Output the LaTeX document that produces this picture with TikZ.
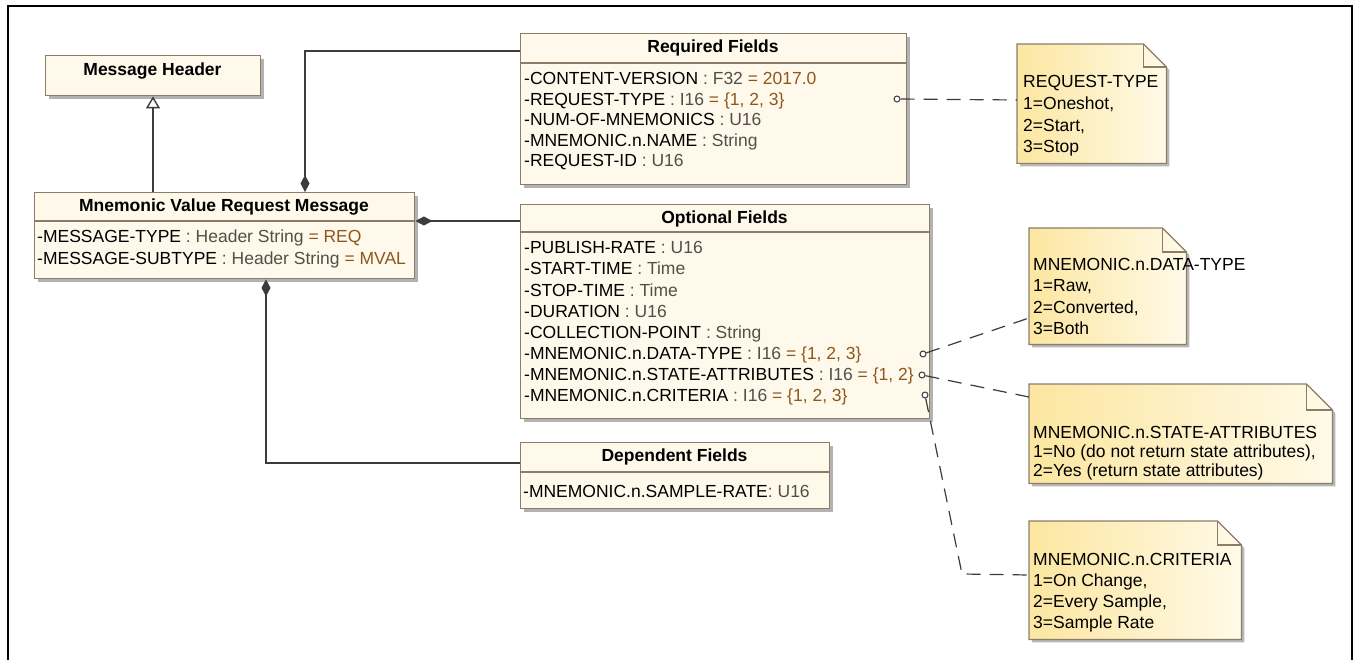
\documentclass[tikz,border=0pt]{standalone}
\usepackage{fontspec}
\setmainfont{Liberation Sans}
\usetikzlibrary{arrows.meta,shadows,calc}
\definecolor{boxfill}{RGB}{255,249,235}
\definecolor{boxline}{RGB}{140,125,105}
\definecolor{tycol}{RGB}{85,78,72}
\definecolor{valcol}{RGB}{140,88,30}
\definecolor{notedark}{RGB}{252,230,160}
\definecolor{notelight}{RGB}{255,250,232}
\definecolor{linecol}{RGB}{60,60,60}
\newcommand\afont{\fontsize{17.5}{21}\selectfont}
\newcommand\ty[1]{\textcolor{tycol}{#1}}
\newcommand\va[1]{\textcolor{valcol}{#1}}
\newcommand\drawnote[2]{%
  \fill[black!28] ($(#1.north west)+(3,3)$) -- ($(#1.north east)+(-#2+3,3)$) -- ($(#1.north east)+(3,#2+3)$) -- ($(#1.south east)+(3,3)$) -- ($(#1.south west)+(3,3)$) -- cycle;
  \shadedraw[left color=notedark, right color=notelight, draw=boxline, line width=1.2pt] (#1.north west) -- ($(#1.north east)+(-#2,0)$) -- ($(#1.north east)+(0,#2)$) -- (#1.south east) -- (#1.south west) -- cycle;
  \draw[boxline, line width=1.2pt] ($(#1.north east)+(-#2,0)$) -- ($(#1.north east)+(-#2,#2)$) -- ($(#1.north east)+(0,#2)$);
}
\begin{document}
\begin{tikzpicture}[x=1pt,y=-1pt,
  classbox/.style={draw=boxline, line width=1.4pt, fill=boxfill, anchor=north west, inner sep=0pt,
    drop shadow={shadow xshift=3pt,shadow yshift=-3pt,fill=black!30,opacity=1}},
  notebox/.style={anchor=north west, inner sep=0pt, draw=none},
  ttl/.style={anchor=base, inner sep=0pt, font=\afont\bfseries},
  attr/.style={anchor=base west, inner sep=0pt, font=\afont},
  divider/.style={draw=boxline, line width=1.2pt},
  conn/.style={draw=linecol, line width=1.4pt},
  compo/.style={conn, {Diamond[length=17pt,width=9pt]}-},
  gen/.style={conn, -{Triangle[length=12pt,width=14pt,fill=white]}},
  anchorc/.style={circle, draw=linecol, line width=1pt, fill=white, minimum size=6pt, inner sep=0pt},
  notelink/.style={draw=linecol, line width=1.2pt, dash pattern=on 14pt off 9pt},
]
\useasboundingbox (0,0) rectangle (1359,660);
\fill[white] (0,0) rectangle (1359,660);
\draw[black, line width=2pt] (8,6) rectangle (1352,668);

% Message Header
\node[classbox, minimum width=215pt, minimum height=40pt] (mh) at (45,55) {};
\node[ttl] (mhT) at (152.5,76) {Message Header};

% Mnemonic Value Request Message
\node[classbox, minimum width=380pt, minimum height=86pt] (mvrm) at (34,192) {};
\node[ttl] (mvrmT) at (224,212) {Mnemonic Value Request Message};
\coordinate (d1) at (0,221);
\draw[divider] (mvrm.west |- d1) -- (mvrm.east |- d1);
\node[attr] (m1) at (37,243) {-MESSAGE-TYPE \ty{:~Header String} \va{=~REQ}};
\node[attr] (m2) at (37,265) {-MESSAGE-SUBTYPE \ty{:~Header String} \va{=~MVAL}};

% Required Fields
\node[classbox, minimum width=386pt, minimum height=151pt] (req) at (520,33) {};
\node[ttl] (reqT) at (713,53) {Required Fields};
\coordinate (d2) at (0,63);
\draw[divider] (req.west |- d2) -- (req.east |- d2);
\node[attr] (r1) at (524,85) {-CONTENT-VERSION \ty{:~F32} \va{=~2017.0}};
\node[attr] (r2) at (524,105.5) {-REQUEST-TYPE \ty{:~I16} \va{=~\{1, 2, 3\}}};
\node[attr] (r3) at (524,126) {-NUM-OF-MNEMONICS \ty{:~U16}};
\node[attr] (r4) at (524,146.5) {-MNEMONIC.n.NAME \ty{:~String}};
\node[attr] (r5) at (524,167) {-REQUEST-ID \ty{:~U16}};

% Optional Fields
\node[classbox, minimum width=409pt, minimum height=214pt] (opt) at (520,204) {};
\node[ttl] (optT) at (724.5,224) {Optional Fields};
\coordinate (d3) at (0,232);
\draw[divider] (opt.west |- d3) -- (opt.east |- d3);
\node[attr] (o1) at (524,254) {-PUBLISH-RATE \ty{:~U16}};
\node[attr] (o2) at (524,275) {-START-TIME \ty{:~Time}};
\node[attr] (o3) at (524,296) {-STOP-TIME \ty{:~Time}};
\node[attr] (o4) at (524,317) {-DURATION \ty{:~U16}};
\node[attr] (o5) at (524,338) {-COLLECTION-POINT \ty{:~String}};
\node[attr] (o6) at (524,359) {-MNEMONIC.n.DATA-TYPE \ty{:~I16} \va{=~\{1, 2, 3\}}};
\node[attr] (o7) at (524,380) {-MNEMONIC.n.STATE-ATTRIBUTES \ty{:~I16} \va{=~\{1, 2\}}};
\node[attr] (o8) at (524,401) {-MNEMONIC.n.CRITERIA \ty{:~I16} \va{=~\{1, 2, 3\}}};

% Dependent Fields
\node[classbox, minimum width=309pt, minimum height=66pt] (dep) at (520,442) {};
\node[ttl] (depT) at (674.5,461) {Dependent Fields};
\coordinate (d4) at (0,472);
\draw[divider] (dep.west |- d4) -- (dep.east |- d4);
\node[attr] (p1) at (523,497) {-MNEMONIC.n.SAMPLE-RATE\ty{:~U16}};

% Notes
\node[notebox, minimum width=149pt, minimum height=119pt] (nreq) at (1017,44) {};
\drawnote{nreq}{23}
\node[attr] at (1023,88) {REQUEST-TYPE};
\node[attr] at (1023,110) {1=Oneshot,};
\node[attr] at (1023,132) {2=Start,};
\node[attr] at (1023,153) {3=Stop};

\node[notebox, minimum width=157pt, minimum height=116pt] (ndata) at (1029,228) {};
\drawnote{ndata}{24}
\node[attr] at (1033,270) {MNEMONIC.n.DATA-TYPE};
\node[attr] at (1033,291.5) {1=Raw,};
\node[attr] at (1033,313) {2=Converted,};
\node[attr] at (1033,334) {3=Both};

\node[notebox, minimum width=303pt, minimum height=99pt] (nstate) at (1029,384) {};
\drawnote{nstate}{26}
\node[attr] at (1033,438) {MNEMONIC.n.STATE-ATTRIBUTES};
\node[attr] at (1033,457) {1=No (do not return state attributes),};
\node[attr] at (1033,476) {2=Yes (return state attributes)};

\node[notebox, minimum width=212pt, minimum height=118pt] (ncrit) at (1029,521) {};
\drawnote{ncrit}{24}
\node[attr] at (1033,565) {MNEMONIC.n.CRITERIA};
\node[attr] at (1033,586) {1=On Change,};
\node[attr] at (1033,607) {2=Every Sample,};
\node[attr] at (1033,628) {3=Sample Rate};

% Connectors
\coordinate (gx) at (153,0);
\draw[gen] (mvrm.north -| gx) -- (mh.south -| gx);
\coordinate (cx1) at (305,0);
\coordinate (cy1) at (0,51);
\draw[compo] (mvrm.north -| cx1) |- (req.west |- cy1);
\coordinate (cy2) at (0,221);
\draw[compo] (mvrm.east |- cy2) -- (opt.west |- cy2);
\coordinate (cx3) at (266,0);
\coordinate (cy3) at (0,463);
\draw[compo] (mvrm.south -| cx3) |- (dep.west |- cy3);

% Note links
\node[anchorc] (a1) at (897,99) {};
\node[anchorc] (a2) at (923,354) {};
\node[anchorc] (a3) at (922,375) {};
\node[anchorc] (a4) at (925,395) {};
\coordinate (e1) at (0,100);
\coordinate (e2) at (0,318);
\coordinate (e3) at (0,397);
\coordinate (e4) at (0,575);
\coordinate (bend) at (962,574);
\draw[notelink] (a1) -- (nreq.west |- e1);
\draw[notelink] (a2) -- (ndata.west |- e2);
\draw[notelink] (a3) -- (nstate.west |- e3);
\draw[notelink] (a4) -- (bend) -- (ncrit.west |- e4);
\end{tikzpicture}
\end{document}
